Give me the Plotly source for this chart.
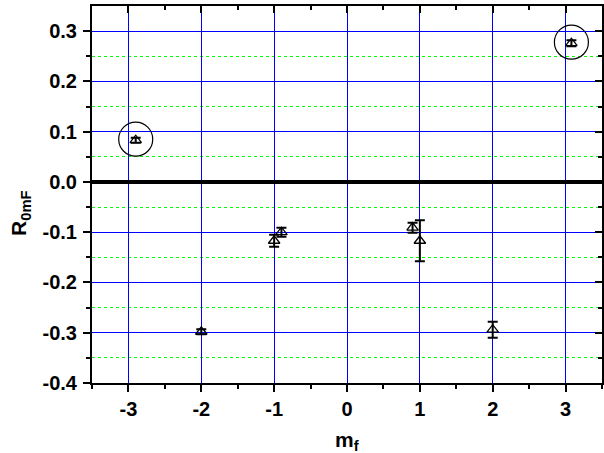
import plotly.graph_objects as go

# data
mf = [-2.9, -2.0, -1.0, -0.9, 0.9, 1.0, 2.0, 3.08]
r0mf = [0.083, -0.298, -0.117, -0.100, -0.091, -0.117, -0.294, 0.276]
err = [0.005, 0.005, 0.012, 0.009, 0.010, 0.041, 0.016, 0.006]
circled = [0, 7]  # points that are ringed in the figure

x_ticks = [-3, -2, -1, 0, 1, 2, 3]
y_ticks = [-0.4, -0.3, -0.2, -0.1, 0.0, 0.1, 0.2, 0.3]
y_minor = [-0.35, -0.25, -0.15, -0.05, 0.05, 0.15, 0.25]

FONT = "Liberation Sans, Arial, sans-serif"
XR = [-3.5, 3.5]
YR = [-0.4, 0.35]

fig = go.Figure()

fig.add_trace(go.Scatter(
    x=mf, y=r0mf,
    mode='markers',
    marker=dict(symbol='triangle-up-open', size=10, color='black',
                line=dict(color='black', width=1.3)),
    error_y=dict(type='data', array=err, color='black', thickness=2, width=5),
    showlegend=False,
))

# invisible trace to carry the mirrored top/right axes
fig.add_trace(go.Scatter(x=[None], y=[None], xaxis='x2', yaxis='y2',
                         showlegend=False, hoverinfo='skip'))

for i in circled:
    fig.add_shape(type='circle', xref='x', yref='y',
                  xsizemode='pixel', ysizemode='pixel',
                  xanchor=mf[i], yanchor=r0mf[i],
                  x0=-17, x1=17, y0=-16, y1=18,
                  line=dict(color='black', width=1.2))

tickfont = dict(size=20, family=FONT, color='black')

fig.update_layout(
    width=604, height=453,
    margin=dict(l=92, r=2, t=6, b=70),
    plot_bgcolor='white', paper_bgcolor='white',
    font=dict(family=FONT, color='black'),
    xaxis=dict(
        range=XR, tickmode='array', tickvals=x_ticks,
        ticktext=[f'<b>{v}</b>' for v in x_ticks], automargin=False,
        showgrid=True, gridcolor='#0000ff', gridwidth=1,
        zeroline=False,
        showline=True, linecolor='black', linewidth=2,
        ticks='outside', ticklen=7, tickwidth=2, tickcolor='black',
        minor=dict(dtick=0.5, tick0=0, ticks='outside', ticklen=4,
                   tickwidth=2, tickcolor='black', showgrid=False),
        tickfont=tickfont,
    ),
    yaxis=dict(
        range=YR, tickmode='array', tickvals=y_ticks,
        ticktext=[f'<b>{v:.1f}</b>' for v in y_ticks], automargin=False,
        showgrid=True, gridcolor='#0000ff', gridwidth=1,
        zeroline=True, zerolinecolor='black', zerolinewidth=3.5,
        showline=True, linecolor='black', linewidth=2,
        ticks='outside', ticklen=7, tickwidth=2, tickcolor='black',
        minor=dict(tickmode='array', tickvals=y_minor,
                   ticks='outside', ticklen=4,
                   tickwidth=2, tickcolor='black', showgrid=True,
                   gridcolor='#00ff00', griddash='dot', gridwidth=1),
        tickfont=tickfont,
        ticklabelstandoff=2,
    ),
    xaxis2=dict(
        overlaying='x', side='top', range=XR, tickmode='array', tickvals=x_ticks,
        automargin=False,
        showgrid=False, zeroline=False, showticklabels=False,
        showline=True, linecolor='black', linewidth=2,
        ticks='inside', ticklen=7, tickwidth=2, tickcolor='black',
        minor=dict(dtick=0.5, tick0=0, ticks='inside', ticklen=4,
                   tickwidth=2, tickcolor='black', showgrid=False),
    ),
    yaxis2=dict(
        overlaying='y', side='right', range=YR, tickmode='array', tickvals=y_ticks,
        automargin=False,
        showgrid=False, zeroline=False, showticklabels=False,
        showline=True, linecolor='black', linewidth=2,
        ticks='inside', ticklen=7, tickwidth=2, tickcolor='black',
        minor=dict(tickmode='array', tickvals=y_minor, ticks='inside', ticklen=4,
                   tickwidth=2, tickcolor='black', showgrid=False),
    ),
    annotations=[
        dict(text='<b>m<sub>f</sub></b>', xref='paper', yref='paper',
             x=0.5, y=-0.155, xanchor='center', yanchor='middle',
             showarrow=False, font=dict(size=21, family=FONT)),
        dict(text='<b>R<sub>0mF</sub></b>', xref='paper', yref='paper',
             x=-0.14, y=0.45, xanchor='center', yanchor='middle',
             textangle=-90, showarrow=False, font=dict(size=21, family=FONT)),
    ],
)

fig.write_html("out.html", config={'displayModeBar': False},
               post_script="document.body.style.margin='0';")
